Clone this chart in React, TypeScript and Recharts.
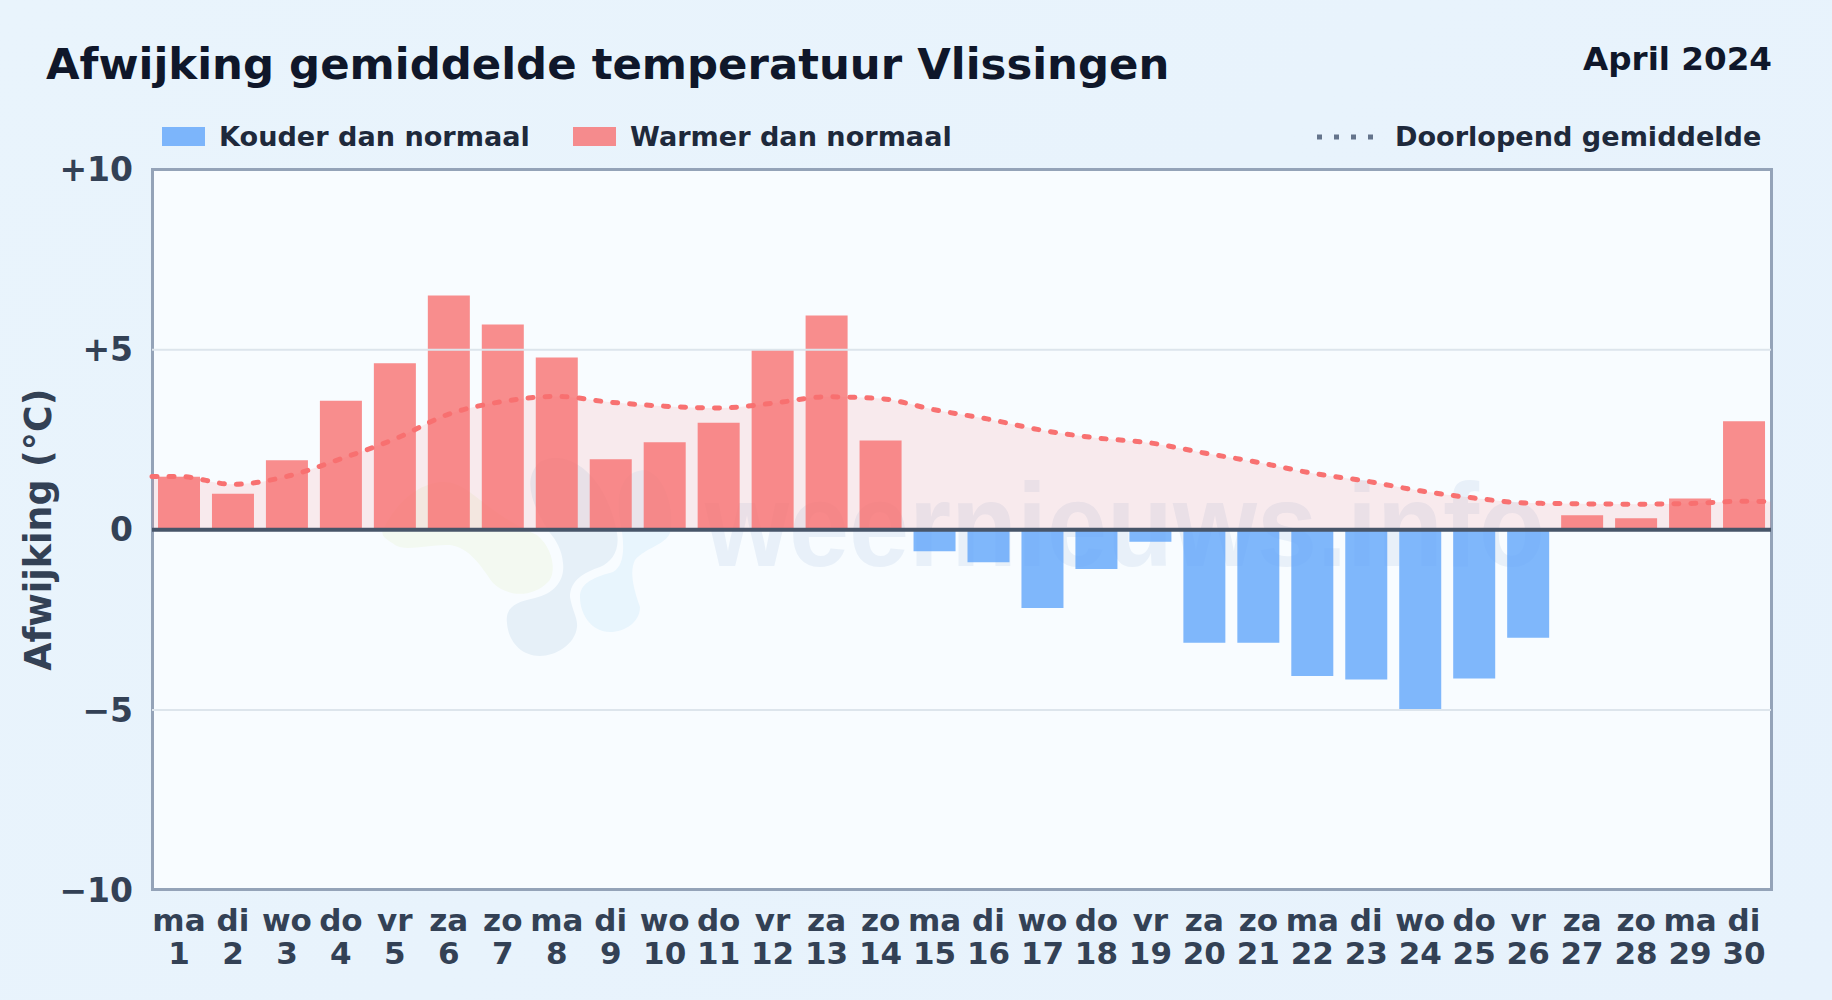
import { Area, Bar, Cell, ComposedChart, Legend, ReferenceLine, XAxis, YAxis } from "recharts"

const days = [1, 2, 3, 4, 5, 6, 7, 8, 9, 10, 11, 12, 13, 14, 15, 16, 17, 18, 19, 20, 21, 22, 23, 24, 25, 26, 27, 28, 29, 30]
const weekdays = ["ma", "di", "wo", "do", "vr", "za", "zo", "ma", "di", "wo", "do", "vr", "za", "zo", "ma", "di", "wo", "do", "vr", "za", "zo", "ma", "di", "wo", "do", "vr", "za", "zo", "ma", "di"]
const deviation = [1.47, 1.0, 1.93, 3.58, 4.62, 6.5, 5.7, 4.78, 1.96, 2.43, 2.97, 5.0, 5.95, 2.48, -0.6, -0.9, -2.17, -1.09, -0.33, -3.14, -3.14, -4.06, -4.16, -5.0, -4.13, -3.0, 0.4, 0.32, 0.87, 3.01]
const rolling = [1.48, 1.26, 1.48, 1.97, 2.52, 3.21, 3.56, 3.7, 3.54, 3.43, 3.38, 3.51, 3.69, 3.64, 3.33, 3.07, 2.76, 2.55, 2.41, 2.13, 1.87, 1.57, 1.35, 1.08, 0.88, 0.74, 0.72, 0.71, 0.73, 0.79]
// the running mean runs on to both edges of the plot
const rollingStart = { day: 0.5, rolling: 1.48 }
const rollingEnd = { day: 30.5, rolling: 0.78 }
const yTicks = [-10, -5, 0, 5, 10]

const barData = days.map((day, i) => ({ day, deviation: deviation[i] }))
const lineData = [rollingStart, ...days.map((day, i) => ({ day, rolling: rolling[i] })), rollingEnd]

const FONT = "'DejaVu Sans', sans-serif"
const RED = "#f87171"
const BLUE = "#60a5fa"

function formatY(v: number) {
  if (v > 0) return `+${v}`
  if (v < 0) return `\u2212${Math.abs(v)}`
  return "0"
}

function DayTick({ x, y, payload }: any) {
  const i = days.indexOf(payload.value)
  return (
    <text x={x} textAnchor="middle" fontFamily={FONT} fontWeight={700} fontSize={31} fill="#334155">
      <tspan x={x} y={y + 33}>{weekdays[i]}</tspan>
      <tspan x={x} y={y + 66}>{payload.value}</tspan>
    </text>
  )
}

function ChartLegend() {
  const label = { position: "absolute", top: 120, fontSize: 27.1, fontWeight: 700, color: "#1e293b", lineHeight: "34px", whiteSpace: "nowrap" } as const
  const swatch = { position: "absolute", top: 127, width: 43, height: 19 } as const
  return (
    <div style={{ position: "relative", width: 1832, height: 1, fontFamily: FONT }}>
      <div style={{ ...swatch, left: 162, background: BLUE, opacity: 0.8 }} />
      <div style={{ ...label, left: 219 }}>Kouder dan normaal</div>
      <div style={{ ...swatch, left: 573, background: RED, opacity: 0.8 }} />
      <div style={{ ...label, left: 630 }}>Warmer dan normaal</div>
      <svg style={{ position: "absolute", left: 1316, top: 130 }} width={60} height={14}>
        <line x1={1} y1={7} x2={58} y2={7} stroke="#64748b" strokeWidth={5} strokeDasharray="5 12" />
      </svg>
      <div style={{ ...label, left: 1395 }}>Doorlopend gemiddelde</div>
    </div>
  )
}

function Watermark() {
  return (
    <svg width={1832} height={1000} style={{ position: "absolute", left: 0, top: 0 }}>
      <path d="M383 530 C395 505 415 485 440 482 C470 480 480 510 537 535 C555 550 556 575 548 582 C530 600 505 595 493 583 C480 565 470 548 450 545 C430 544 405 552 395 545 C388 540 380 537 383 530 Z" fill="#f3f9f1" />
      <path d="M507 623 C505 608 515 602 535 598 C555 593 565 580 563 563 C562 550 556 540 550 533 C535 510 520 480 540 462 C565 448 605 470 617 533 C620 550 612 562 600 567 C585 572 570 580 570 597 C572 610 578 618 577 627 C575 645 555 656 540 656 C520 656 508 640 507 623 Z" fill="#e6f0f8" />
      <path d="M580 597 C580 585 590 578 613 572 C625 565 625 545 620 520 C615 490 625 470 645 470 C665 475 675 510 670 533 C665 545 645 548 635 560 C630 570 632 585 640 607 C640 622 625 632 610 632 C592 632 580 615 580 597 Z" fill="#e8f5fd" />
      <text x={705} y={566} fontFamily="'Liberation Sans', sans-serif" fontWeight={700} fontSize={118} fill="#e8f0f9" textLength={840} lengthAdjust="spacingAndGlyphs">
        weernieuws.info
      </text>
    </svg>
  )
}

export default function App() {
  return (
    <div style={{ position: "relative", width: 1832, height: 1000, overflow: "hidden", background: "linear-gradient(135deg, #e9f4fc, #e7f2fc)", fontFamily: FONT }}>
      <style>{"body{margin:0}"}</style>
      <div style={{ position: "absolute", left: 151, top: 168, width: 1622, height: 723, boxSizing: "border-box", background: "#f8fcff", border: "3px solid #94a3b8" }} />
      <Watermark />
      <div style={{ position: "absolute", left: 46, top: 39, fontSize: 43.4, fontWeight: 700, color: "#0f172a", whiteSpace: "nowrap" }}>
        Afwijking gemiddelde temperatuur Vlissingen
      </div>
      <div style={{ position: "absolute", right: 60, top: 40, fontSize: 32.6, fontWeight: 700, color: "#0f172a", whiteSpace: "nowrap" }}>
        April 2024
      </div>
      <div style={{ position: "absolute", left: 0, top: 0 }}>
        <ComposedChart width={1832} height={1000} data={barData} margin={{ top: 169.5, right: 61, bottom: 0, left: 52 }}>
          <XAxis
            xAxisId="bars"
            dataKey="day"
            type="number"
            domain={[0.5, 30.5]}
            ticks={days}
            interval={0}
            height={110}
            axisLine={false}
            tickLine={false}
            tick={<DayTick />}
          />
          <XAxis xAxisId="line" dataKey="day" type="number" domain={[0.5, 30.5]} height={0} hide />
          <YAxis
            domain={[-10, 10]}
            ticks={yTicks}
            width={100}
            interval={0}
            axisLine={false}
            tickLine={false}
            tickFormatter={formatY}
            tickMargin={13}
            tick={{ fontFamily: FONT, fontWeight: 700, fontSize: 33, fill: "#334155" }}
            label={{ value: "Afwijking (°C)", angle: -90, position: "insideLeft", offset: 0, dx: -14, style: { fontFamily: FONT, fontWeight: 700, fontSize: 36.4, fill: "#334155", textAnchor: "middle" } }}
          />
          <ReferenceLine xAxisId="bars" y={5} stroke="#dde5ec" strokeWidth={2} />
          <ReferenceLine xAxisId="bars" y={-5} stroke="#dde5ec" strokeWidth={2} />
          <Bar xAxisId="bars" dataKey="deviation" barSize={42} isAnimationActive={false}>
            {barData.map((row) => (
              <Cell key={row.day} fill={row.deviation < 0 ? BLUE : RED} fillOpacity={0.8} />
            ))}
          </Bar>
          <Area
            xAxisId="line"
            data={lineData}
            dataKey="rolling"
            type="monotone"
            baseValue={0}
            fill={RED}
            fillOpacity={0.13}
            stroke={RED}
            strokeWidth={5}
            strokeDasharray="5 12"
            strokeLinecap="round"
            dot={false}
            activeDot={false}
            isAnimationActive={false}
          />
          <ReferenceLine xAxisId="bars" y={0} stroke="#475569" strokeWidth={4} />
          <Legend layout="horizontal" verticalAlign="middle" align="center" content={<ChartLegend />} wrapperStyle={{ position: "absolute", left: 0, top: 0, width: 1832, height: 1, margin: 0 }} />
        </ComposedChart>
      </div>
    </div>
  )
}
